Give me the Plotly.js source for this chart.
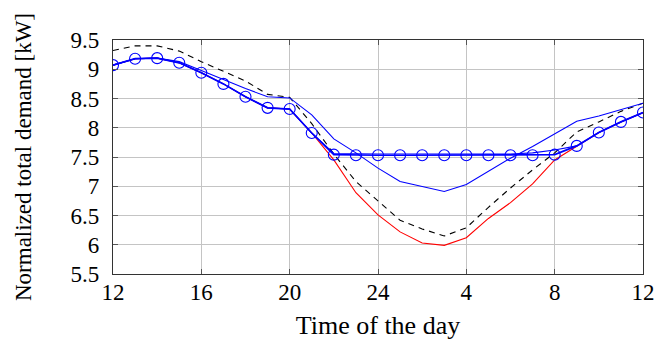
<!DOCTYPE html>
<html>
<head>
<meta charset="utf-8">
<script src="https://cdn.plot.ly/plotly-3.0.1.min.js"></script>
<style>
html,body{margin:0;padding:0;background:#fff;}
#chart{width:656px;height:349px;}
</style>
</head>
<body>
<div id="chart"></div>
<script>
// Hours after 12:00 (noon) over one day
const hours = [0,1,2,3,4,5,6,7,8,9,10,11,12,13,14,15,16,17,18,19,20,21,22,23,24];
const xTickVals = [0,4,8,12,16,20,24];
const xTickText = ["12","16","20","24","4","8","12"];
const yTickVals = [5.5,6,6.5,7,7.5,8,8.5,9,9.5];
const yTickText = ["5.5","6","6.5","7","7.5","8","8.5","9","9.5"];

// Red thin line
const redSeries = [9.07,9.18,9.19,9.11,8.94,8.75,8.53,8.34,8.32,7.91,7.45,6.89,6.51,6.22,6.03,5.99,6.12,6.45,6.72,7.04,7.45,7.69,7.92,8.10,8.26];
// Black dashed line
const dashedSeries = [9.32,9.40,9.40,9.31,9.13,8.97,8.80,8.57,8.52,8.07,7.55,7.08,6.75,6.42,6.27,6.15,6.29,6.64,6.97,7.28,7.57,7.93,8.10,8.28,8.42];
// Blue thin line (dip to ~6.9)
const blueThinSeries = [9.07,9.18,9.19,9.13,8.98,8.82,8.67,8.53,8.51,8.22,7.81,7.57,7.31,7.08,6.99,6.91,7.03,7.25,7.48,7.68,7.89,8.11,8.20,8.31,8.42];
// Blue thin line close to the flat one
const blueFlatThinSeries = [9.07,9.18,9.19,9.11,8.94,8.75,8.53,8.34,8.32,7.91,7.56,7.55,7.55,7.55,7.55,7.55,7.55,7.55,7.55,7.57,7.62,7.69,7.92,8.10,8.26];
// Blue thick line with circle markers
const blueCircleSeries = [9.07,9.18,9.19,9.11,8.94,8.75,8.53,8.34,8.32,7.91,7.54,7.53,7.53,7.53,7.53,7.53,7.53,7.53,7.53,7.53,7.54,7.69,7.92,8.10,8.26];

const traces = [
  {x: hours, y: redSeries, mode: 'lines', line: {color: '#ff0000', width: 1.1}},
  {x: hours, y: dashedSeries, mode: 'lines', line: {color: '#000000', width: 1.1, dash: '6px,5px'}},
  {x: hours, y: blueThinSeries, mode: 'lines', line: {color: '#0000ff', width: 1.1}},
  {x: hours, y: blueFlatThinSeries, mode: 'lines', line: {color: '#0000ff', width: 1.1}},
  {x: hours, y: blueCircleSeries, mode: 'lines+markers', line: {color: '#0000ff', width: 1.7},
   marker: {symbol: 'circle-open', size: 11, color: '#0000ff', line: {width: 1.1, color: '#0000ff'}}}
];

const fam = 'Liberation Serif, Times New Roman, serif';

const layout = {
  width: 656, height: 349,
  margin: {l: 113, r: 13, t: 40, b: 75},
  paper_bgcolor: '#fff', plot_bgcolor: '#fff',
  showlegend: false,
  font: {family: fam, size: 22, color: '#000'},
  xaxis: {
    range: [0, 24], tickvals: xTickVals, ticktext: xTickText,
    showgrid: true, gridcolor: '#c4c4c4', gridwidth: 1,
    showline: true, linecolor: '#333', linewidth: 1.2, mirror: 'ticks',
    ticks: 'inside', ticklen: 5, tickcolor: '#555',
    zeroline: false, ticklabelstandoff: -3,
    tickfont: {family: fam, size: 23, color: '#000'},
    title: {text: 'Time of the day', font: {family: fam, size: 26, color: '#000'}, standoff: 12}
  },
  yaxis: {
    range: [5.5, 9.5], tickvals: yTickVals, ticktext: yTickText,
    showgrid: true, gridcolor: '#c4c4c4', gridwidth: 1,
    showline: true, linecolor: '#333', linewidth: 1.2, mirror: 'ticks',
    ticks: 'inside', ticklen: 5, tickcolor: '#555',
    zeroline: false, ticklabelstandoff: 8,
    tickfont: {family: fam, size: 23, color: '#000'},
    title: {text: 'Normalized total demand [kW]', font: {family: fam, size: 23, color: '#000'}, standoff: 32}
  }
};

Plotly.newPlot('chart', traces, layout, {displayModeBar: false, staticPlot: true});
</script>
</body>
</html>
